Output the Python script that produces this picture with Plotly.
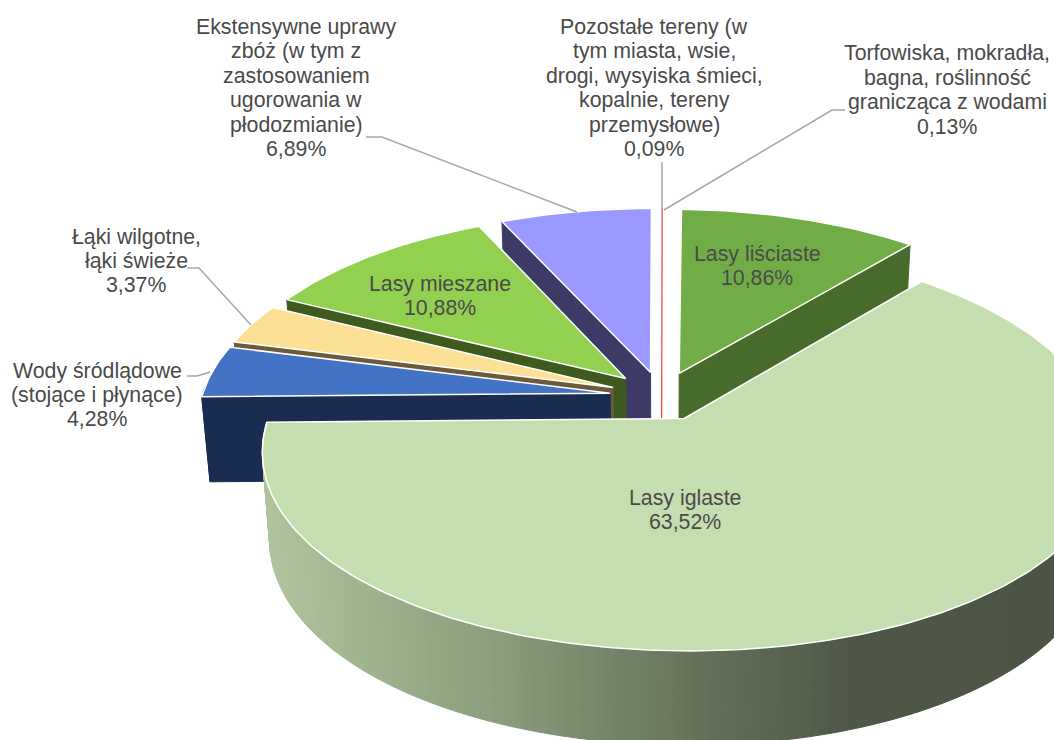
import math
import plotly.graph_objects as go

# ---- data (clockwise from the start angle) ----
categories = [["Lasy iglaste"],
              ["Wody śródlądowe", "(stojące i płynące)"],
              ["Łąki wilgotne,", "łąki świeże"],
              ["Lasy mieszane"],
              ["Ekstensywne uprawy", "zbóż (w tym z", "zastosowaniem", "ugorowania w", "płodozmianie)"],
              ["Pozostałe tereny (w", "tym miasta, wsie,", "drogi, wysyiska śmieci,", "kopalnie, tereny", "przemysłowe)"],
              ["Torfowiska, mokradła,", "bagna, roślinność", "granicząca z wodami"],
              ["Lasy liściaste"]]
values = [63.52, 4.28, 3.37, 10.88, 6.89, 0.09, 0.13, 10.86]
top_colors = ["#c5deb0", "#4472c4", "#fbe096", "#92d050", "#9999ff", "#f01010", "#ffffff", "#70ad47"]
wall_colors = ["#8a9c78", "#1a2c50", "#6b5b3a", "#3f5a1f", "#3d3b66", "#e00000", "#ffffff", "#476b2b"]

# ---- layout of the 3D view ----
W, H_PX = 1054, 740
START_DEG = 40.3
CX, CY, SX, SY = 661.5, 396, 408, 193
PERSP_X_FRONT, PERSP_X_BACK, PERSP_Y, BACK_SHIFT = 0.17, 0.14, 0.14, 3
EXPLODE, DEPTH, SHRINK = 0.127, 85, 0.982
LINE_STEP = 24.4
label_xy = [(685, 510), (97, 395), (136, 261), (440, 296), (296, 88), (654, 88), (947, 90), (757, 266)]
draw_order = [4, 6, 5, 7, 3, 2, 1, 0]
leaders = [[(366, 137), (382, 137), (577, 212)],
           [(662, 162), (662, 210)],
           [(845, 110), (832, 110), (664, 210)],
           [(187, 268), (199, 268), (251, 325)],
           [(187, 376), (197, 376), (210, 372)]]


def proj(X, Y, bottom=False):
    wx = 1 / (1 - (PERSP_X_FRONT if Y >= 0 else PERSP_X_BACK) * Y)
    wy = 1 / (1 - PERSP_Y * Y)
    x = CX + SX * X * wx + (BACK_SHIFT * Y if Y < 0 else 0)
    y = CY + SY * Y * wy
    if bottom:
        x = CX + (x - CX) * SHRINK
        y += DEPTH * math.sqrt(wx)
    return x, y


def rim(a_deg, ox, oy, r=1.0, bottom=False):
    a = math.radians(a_deg)
    return proj(ox + r * math.sin(a), oy - r * math.cos(a), bottom)


def poly(pts, color, line=None, lw=1.0):
    return go.Scatter(x=[p[0] for p in pts] + [pts[0][0]], y=[p[1] for p in pts] + [pts[0][1]],
                      mode="lines", fill="toself", fillcolor=color,
                      line=dict(color=line or color, width=lw), hoverinfo="skip", showlegend=False)


def grad(x):
    stops = [(265, (176, 196, 158)), (500, (138, 157, 124)), (700, (100, 114, 90)), (850, (79, 88, 71)), (1100, (76, 85, 68))]
    for (x0, c0), (x1, c1) in zip(stops, stops[1:]):
        if x <= x1:
            t = max(0, (x - x0) / (x1 - x0))
            return "rgb(%d,%d,%d)" % tuple(c0[i] + t * (c1[i] - c0[i]) for i in range(3))
    return "rgb(76,85,68)"


total = sum(values)
angles = [START_DEG]
for v in values:
    angles.append(angles[-1] + v / total * 360)

fig = go.Figure()
for i in draw_order:
    a0, a1 = angles[i], angles[i + 1]
    m = math.radians((a0 + a1) / 2)
    ox, oy = EXPLODE * math.sin(m), -EXPLODE * math.cos(m)
    n = max(2, int(a1 - a0))
    arc = [a0 + (a1 - a0) * k / n for k in range(n + 1)]
    thin = values[i] < 1

    if thin:
        # hairline slices: a single stroke from the rim down to the base of the apex
        p0 = rim((a0 + a1) / 2, ox, oy)
        p1 = proj(ox, oy)
        p2 = proj(ox, oy, True)
        fig.add_trace(go.Scatter(x=[p0[0], p1[0], p2[0]], y=[p0[1], p1[1], p2[1]], mode="lines",
                                 line=dict(color=top_colors[i], width=1), hoverinfo="skip", showlegend=False))
        continue

    # radial walls that face the viewer
    for edge, normal in ((a0, a0 - 90), (a1, a1 + 90)):
        if math.cos(math.radians(normal)) < -0.02:
            pts = [proj(ox, oy), rim(edge, ox, oy), rim(edge, ox, oy, bottom=True), proj(ox, oy, True)]
            fig.add_trace(poly(pts, wall_colors[i]))

    # outer wall
    for b0, b1 in zip(arc, arc[1:]):
        mid = (b0 + b1) / 2
        if 88 < mid % 360 < 272:
            pts = [rim(b0, ox, oy), rim(b1, ox, oy), rim(b1, ox, oy, bottom=True), rim(b0, ox, oy, bottom=True)]
            col = grad(rim(mid, ox, oy)[0]) if i == 0 else wall_colors[i]
            fig.add_trace(poly(pts, col))

    # top face
    pts = [proj(ox, oy)] + [rim(b, ox, oy) for b in arc]
    fig.add_trace(poly(pts, top_colors[i], line="white", lw=1.5))

annotations = []
for lines, v, (lx, ly) in zip(categories, values, label_xy):
    pct = f"{v:.2f}".replace(".", ",") + "%"
    rows = lines + [pct]
    for k, row in enumerate(rows):
        annotations.append(dict(x=lx, y=ly + (k - (len(rows) - 1) / 2) * LINE_STEP, xref="x", yref="y",
                                text=row, showarrow=False, xanchor="center", yanchor="middle", align="center",
                                font=dict(family="Liberation Sans", size=21.3, color="#4a4a4a")))

for path in leaders:
    fig.add_trace(go.Scatter(x=[p[0] for p in path], y=[p[1] for p in path], mode="lines",
                             line=dict(color="#a6a6a6", width=1.5), hoverinfo="skip", showlegend=False))

fig.update_layout(width=W, height=H_PX, margin=dict(l=0, r=0, t=0, b=0), autosize=False,
                  paper_bgcolor="white", plot_bgcolor="white", showlegend=False, annotations=annotations,
                  xaxis=dict(range=[0, W], visible=False, fixedrange=True),
                  yaxis=dict(range=[H_PX, 0], visible=False, fixedrange=True))
fig.write_html("out.html", config=dict(displayModeBar=False),
               post_script="document.body.style.margin='0';document.documentElement.style.overflow='hidden';")
